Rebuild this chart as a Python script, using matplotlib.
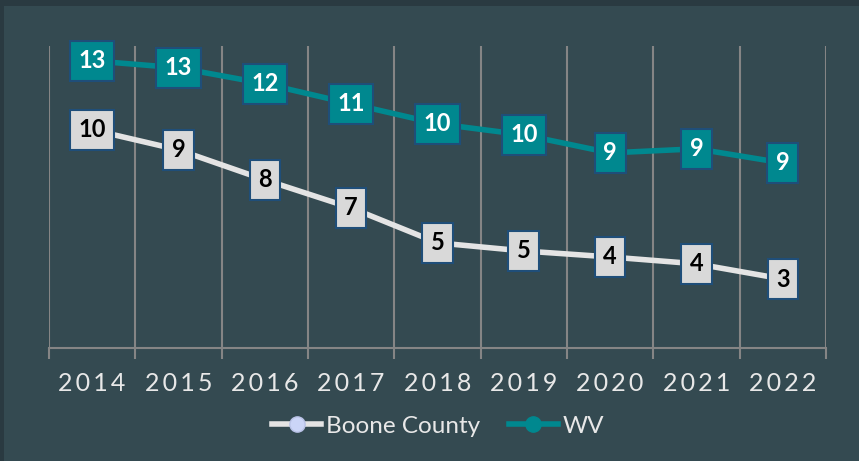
import matplotlib
matplotlib.use("Agg")
import matplotlib.pyplot as plt
from matplotlib.patches import Rectangle
from matplotlib.lines import Line2D

years = ["2014", "2015", "2016", "2017", "2018", "2019", "2020", "2021", "2022"]
boone = [10.19, 9.25, 7.85, 6.54, 4.91, 4.53, 4.25, 3.93, 3.22]
wv = [13.41, 13.08, 12.34, 11.40, 10.47, 9.95, 9.11, 9.30, 8.64]

BG = "#344A51"
OUTER = "#2A3A41"
TEAL = "#00888F"
BOONE_LINE = "#E4E4E4"
BOONE_BOX = "#D9D9D9"
BOX_EDGE = "#1F4E79"
GRID = "#858585"
TXT = "#E8E8E8"

plt.rcParams["font.family"] = ["Lato", "DejaVu Sans"]

fig = plt.figure(figsize=(8.59, 4.61), dpi=100)
fig.patch.set_facecolor(OUTER)
bgax = fig.add_axes([4 / 859, 0, 1 - 4 / 859, 1 - 6 / 461], zorder=-10)
bgax.set_facecolor(BG)
bgax.axis("off")
bgax.add_patch(Rectangle((0, 0), 1, 1, transform=bgax.transAxes, facecolor=BG, edgecolor="none"))

ax = fig.add_axes([49 / 859, 1 - 348 / 461, (826 - 49) / 859, (348 - 46) / 461], zorder=1)
ax.set_facecolor("none")
x = list(range(len(years)))
ax.set_xlim(-0.5, len(years) - 0.5)
ax.set_ylim(0, 14.1)

for s in ["top", "right", "left"]:
    ax.spines[s].set_visible(False)
ax.spines["bottom"].set_color(GRID)
ax.spines["bottom"].set_linewidth(1.5)
ax.set_yticks([])

bounds = [i - 0.5 for i in range(len(years) + 1)]
ax.set_xticks(bounds, minor=True)
ax.set_xticks(x)
ax.set_xticklabels(["\u2009".join(list(y)) for y in years], color=TXT, fontsize=18)
ax.tick_params(axis="x", which="major", length=0, pad=17)
ax.tick_params(axis="x", which="minor", length=8, width=1.5, color=GRID)
for b in bounds:
    ax.axvline(b, color=GRID, lw=1.5, zorder=1)

ax.plot(x, boone, color=BOONE_LINE, lw=4, zorder=2, solid_capstyle="round")
ax.plot(x, wv, color=TEAL, lw=4, zorder=2, solid_capstyle="round")

for xi, v in zip(x, boone):
    ax.text(xi, v, f"{v:.0f}", ha="center", va="center", fontsize=17, fontweight="bold",
            color="black", zorder=5,
            bbox=dict(boxstyle="square,pad=0.36", fc=BOONE_BOX, ec=BOX_EDGE, lw=1.5))
for xi, v in zip(x, wv):
    ax.text(xi, v, f"{v:.0f}", ha="center", va="center", fontsize=17, fontweight="bold",
            color="white", zorder=5,
            bbox=dict(boxstyle="square,pad=0.36", fc=TEAL, ec=BOX_EDGE, lw=1.5))

handles = [
    Line2D([0], [0], color=BOONE_LINE, lw=4, marker="o", markersize=11,
           markerfacecolor="#CBD5F7", markeredgecolor="#B9C2E6"),
    Line2D([0], [0], color=TEAL, lw=4, marker="o", markersize=11,
           markerfacecolor=TEAL, markeredgecolor=TEAL),
]
leg = fig.legend(handles, ["Boone County", "WV"], loc="center", bbox_to_anchor=(0.51, 1 - 426 / 461),
                 ncol=2, frameon=False, fontsize=17.5, handlelength=2.0, handletextpad=0.2,
                 columnspacing=1.2)
for t in leg.get_texts():
    t.set_color(TXT)

fig.savefig("out.png", dpi=100, facecolor=fig.get_facecolor())
